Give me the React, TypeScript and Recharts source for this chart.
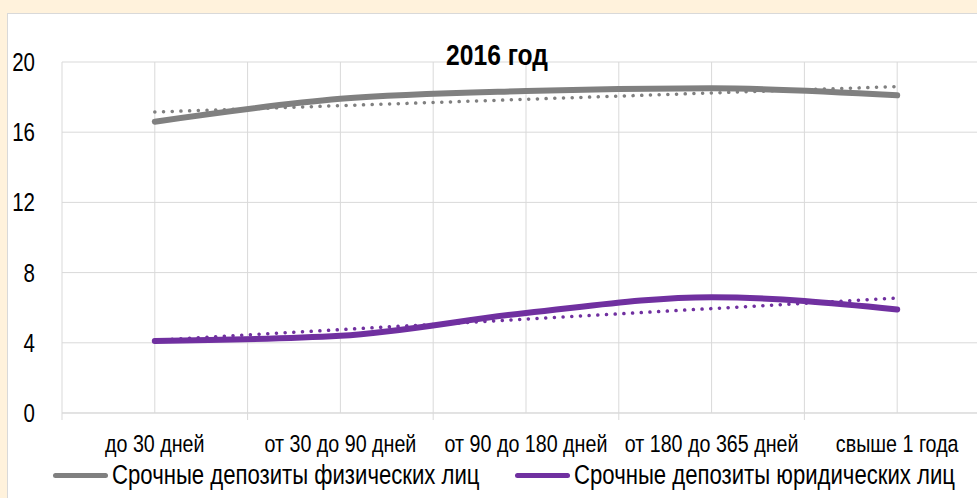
import { CartesianGrid, Legend, Line, LineChart, XAxis, YAxis } from "recharts";

const terms: string[] = ['до 30 дней', 'от 30 до 90 дней', 'от 90 до 180 дней', 'от 180 до 365 дней', 'свыше 1 года'];
const individuals: number[] = [16.6, 17.9, 18.35, 18.5, 18.1];
const companies: number[] = [4.1, 4.4, 5.7, 6.6, 5.9];
// trend lines (dotted), read at first and last category only
const individualsTrend: (number | null)[] = [17.15, null, null, null, 18.6];
const companiesTrend: (number | null)[] = [4.15, null, null, null, 6.55];
const yTicks: number[] = [0, 4, 8, 12, 16, 20];

const seriesNames = ['Срочные депозиты физических лиц', 'Срочные депозиты юридических лиц'];

const data = terms.map((term, i) => ({
    pos: i + 1,
    term,
    individuals: individuals[i],
    companies: companies[i],
    individualsTrend: individualsTrend[i],
    companiesTrend: companiesTrend[i],
}));

// ticks on every half category: integers carry labels, halves are the category borders
const xTicks: number[] = [];
for (let i = 0; i <= terms.length * 2; i++) xTicks.push(0.5 + i / 2);

// no narrow font available, so squeeze Liberation Sans horizontally
const FONT = '"Liberation Sans", Arial, sans-serif';
const SQUEEZE = 0.82;
const GRAY = '#808080';
const PURPLE = '#7030A0';
const GRID = '#D9D9D9';

function XTick(props: any) {
    const { x, y, payload } = props;
    const v = payload.value as number;
    if (Number.isInteger(v)) {
        return (
            <text transform={`translate(${x},${y + 39}) scale(${SQUEEZE},1)`} textAnchor="middle" fontFamily={FONT} fontSize={24} fill="#000">
                {terms[v - 1]}
            </text>
        );
    }
    return <line x1={x} x2={x} y1={y} y2={y + 7} stroke={GRID} strokeWidth={1} />;
}

function YTick(props: any) {
    const { x, y, payload } = props;
    return (
        <text transform={`translate(${x},${y + 9}) scale(${SQUEEZE},1)`} textAnchor="end" fontFamily={FONT} fontSize={25} fill="#000">
            {payload.value}
        </text>
    );
}

const legendSpots = [53, 515];

function LegendBox() {
    const colors = [GRAY, PURPLE];
    return (
        <div style={{ position: 'relative', height: 38, fontFamily: FONT, fontSize: 27, color: '#000', lineHeight: '30px' }}>
            {seriesNames.map((name, i) => (
                <div key={name} style={{ position: 'absolute', left: legendSpots[i], top: 0, display: 'flex', alignItems: 'center', whiteSpace: 'nowrap' }}>
                    <span style={{ display: 'inline-block', width: 55, height: 5, borderRadius: 3, background: colors[i], marginRight: 4 }} />
                    <span style={{ display: 'inline-block', transform: `scaleX(${SQUEEZE})`, transformOrigin: 'left center' }}>{name}</span>
                </div>
            ))}
        </div>
    );
}

export default function App() {
    return (
        <div style={{ position: 'absolute', left: 0, top: 0, width: 977, height: 498, overflow: 'hidden', background: '#FFF2DC' }}>
            <div style={{ position: 'absolute', left: 7, top: 13, width: 1000, height: 520, background: '#fff', border: `1px solid ${GRID}` }} />
            <div style={{ position: 'absolute', left: 0, top: 0 }}>
                <LineChart
                    width={1000}
                    height={498}
                    data={data}
                    margin={{ top: 62, right: 10, bottom: 0, left: 0 }}
                >
                    <CartesianGrid stroke={GRID} />
                    <XAxis
                        dataKey="pos"
                        type="number"
                        domain={[0.5, terms.length + 0.5]}
                        ticks={xTicks}
                        interval={0}
                        tick={<XTick />}
                        tickLine={false}
                        tickSize={0}
                        tickMargin={0}
                        axisLine={{ stroke: GRID }}
                        height={47}
                    />
                    <YAxis
                        domain={[0, 20]}
                        ticks={yTicks}
                        width={62}
                        axisLine={false}
                        tickLine={false}
                        tickSize={0}
                        tickMargin={27}
                        tick={<YTick />}
                    />
                    <Legend verticalAlign="bottom" height={38} content={() => <LegendBox />} />
                    <Line type="monotone" dataKey="individuals" stroke={GRAY} strokeWidth={6} strokeLinecap="round" dot={false} isAnimationActive={false} />
                    <Line type="monotone" dataKey="companies" stroke={PURPLE} strokeWidth={6} strokeLinecap="round" dot={false} isAnimationActive={false} />
                    <Line type="linear" dataKey="individualsTrend" connectNulls stroke={GRAY} strokeWidth={3.5} strokeDasharray="0.1 8.6" strokeLinecap="round" dot={false} isAnimationActive={false} legendType="none" />
                    <Line type="linear" dataKey="companiesTrend" connectNulls stroke={PURPLE} strokeWidth={3.5} strokeDasharray="0.1 8.6" strokeLinecap="round" dot={false} isAnimationActive={false} legendType="none" />
                </LineChart>
            </div>
            <div style={{ position: 'absolute', left: 0, width: 994, top: 38, textAlign: 'center', fontFamily: FONT, fontWeight: 'bold', fontSize: 30, lineHeight: '34px', transform: `scaleX(${SQUEEZE})`, transformOrigin: '497px 0' }}>
                2016 год
            </div>
        </div>
    );
}
